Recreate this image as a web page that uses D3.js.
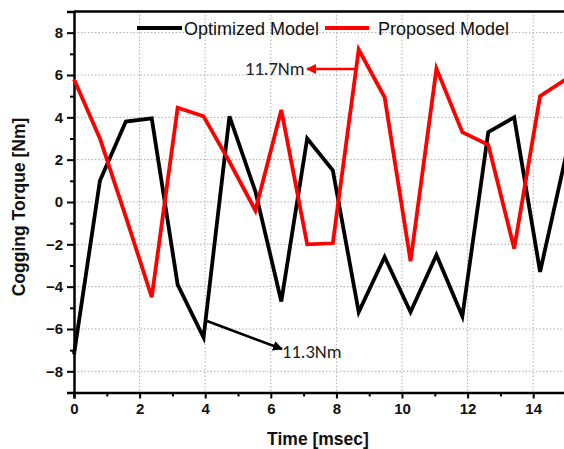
<!DOCTYPE html>
<html>
<head>
<meta charset="utf-8">
<script src="https://cdn.jsdelivr.net/npm/d3@7"></script>
<style>
  body { margin: 0; background: #fff; }
  svg { display: block; }
</style>
</head>
<body>
<svg id="chart"></svg>
<script>
const times = [0, 0.79, 1.58, 2.37, 3.16, 3.95, 4.74, 5.53, 6.32, 7.11, 7.89, 8.68, 9.47, 10.26, 11.05, 11.84, 12.63, 13.42, 14.21, 15];
const optimized = [-7.2, 1.0, 3.8, 3.95, -3.9, -6.4, 4.05, 0.5, -4.7, 3.0, 1.5, -5.2, -2.6, -5.2, -2.5, -5.4, 3.3, 4.0, -3.3, 2.2];
const proposed = [5.8, 3.0, -0.7, -4.5, 4.45, 4.05, 1.9, -0.4, 4.35, -2.0, -1.95, 7.2, 4.95, -2.8, 6.3, 3.3, 2.7, -2.2, 5.0, 5.8];
const xTicks = [0, 2, 4, 6, 8, 10, 12, 14];
const yTicks = [-8, -6, -4, -2, 0, 2, 4, 6, 8];
const seriesNames = ['Optimized Model', 'Proposed Model'];

const width = 564, height = 449;
const svg = d3.select('#chart').attr('width', width).attr('height', height);

let x = d3.scaleLinear().domain([0, 15]).range([74, 566]);
let y = d3.scaleLinear().domain([-9, 9]).range([392.5, 11.5]);

// grid
svg.append('g').selectAll('line')
   .data(xTicks.filter(d => d > 0)).enter()
   .append('line')
   .attr('x1', d => x(d)).attr('x2', d => x(d))
   .attr('y1', y(9)).attr('y2', y(-9))
   .attr('stroke', '#aaa').attr('stroke-width', 1).attr('stroke-dasharray', '1.5,2');
svg.append('g').selectAll('line')
   .data(yTicks).enter()
   .append('line')
   .attr('x1', x(0)).attr('x2', width)
   .attr('y1', d => y(d)).attr('y2', d => y(d))
   .attr('stroke', '#aaa').attr('stroke-width', 1).attr('stroke-dasharray', '1.5,2');

// axes
let xAxis = svg.append('g').attr('transform', `translate(0,${y(-9)})`)
   .call(d3.axisBottom(x).tickValues(xTicks).tickSize(6).tickPadding(4).tickFormat(d3.format('d')));
svg.append('g').attr('transform', `translate(0,${y(-9)})`)
   .call(d3.axisBottom(x).tickValues(d3.range(1, 15, 2)).tickSize(4).tickFormat(''))
   .call(g => g.select('.domain').remove());
let yAxis = svg.append('g').attr('transform', `translate(${x(0)},0)`)
   .call(d3.axisLeft(y).tickValues(yTicks).tickSize(7).tickPadding(4).tickFormat(d3.format('d')));
svg.append('g').attr('transform', `translate(${x(0)},0)`)
   .call(d3.axisLeft(y).tickValues(d3.range(-9, 10, 2)).tickSize(4).tickFormat(''))
   .call(g => g.select('.domain').remove());

svg.selectAll('.domain').attr('stroke', '#000').attr('stroke-width', 2.5);
svg.selectAll('.tick line').attr('stroke', '#000').attr('stroke-width', 2);
svg.selectAll('.tick text')
   .attr('font-family', 'Liberation Sans, Arial, sans-serif')
   .attr('font-weight', 'bold').attr('font-size', 15).attr('fill', '#111');
xAxis.selectAll('.tick text').attr('dy', '0.75em');

// top frame
svg.append('line')
   .attr('x1', x(0)).attr('x2', width)
   .attr('y1', y(9)).attr('y2', y(9))
   .attr('stroke', '#000').attr('stroke-width', 2.5);

// series
let line = d3.line().x((d, i) => x(times[i])).y(d => y(d));
svg.append('path').datum(optimized)
   .attr('d', line).attr('fill', 'none')
   .attr('stroke', '#000').attr('stroke-width', 3.8).attr('stroke-linejoin', 'miter');
svg.append('path').datum(proposed)
   .attr('d', line).attr('fill', 'none')
   .attr('stroke', '#ff0000').attr('stroke-width', 3.8).attr('stroke-linejoin', 'miter');

// legend
let legendFont = 'Liberation Sans, Arial, sans-serif';
svg.append('line').attr('x1', 137).attr('x2', 182).attr('y1', 28).attr('y2', 28)
   .attr('stroke', '#000').attr('stroke-width', 3.8);
svg.append('text').attr('x', 184).attr('y', 35).text(seriesNames[0])
   .attr('font-family', legendFont).attr('font-size', 18).attr('fill', '#111');
svg.append('line').attr('x1', 325).attr('x2', 369).attr('y1', 28).attr('y2', 28)
   .attr('stroke', '#ff0000').attr('stroke-width', 3.8);
svg.append('text').attr('x', 378).attr('y', 35).text(seriesNames[1])
   .attr('font-family', legendFont).attr('font-size', 18).attr('fill', '#111');

// arrow markers
let defs = svg.append('defs');
[['arrRed', '#ff0000'], ['arrBlack', '#000']].forEach(([id, col]) => {
  defs.append('marker').attr('id', id)
     .attr('viewBox', '0 0 10 10').attr('refX', 9).attr('refY', 5)
     .attr('markerWidth', 4).attr('markerHeight', 4).attr('orient', 'auto')
     .append('path').attr('d', 'M0,0 L10,5 L0,10 z').attr('fill', col);
});

// annotations
let noteFont = 'Carlito, Open Sans, Liberation Sans, sans-serif';
svg.append('line').attr('x1', 355).attr('y1', 69).attr('x2', 307).attr('y2', 69)
   .attr('stroke', '#ff0000').attr('stroke-width', 2.5).attr('marker-end', 'url(#arrRed)');
svg.append('text').attr('x', 245).attr('y', 75).text('11.7Nm')
   .attr('font-family', noteFont).attr('font-size', 18.5).attr('fill', '#222');
svg.append('line').attr('x1', 207).attr('y1', 321).attr('x2', 282).attr('y2', 349)
   .attr('stroke', '#000').attr('stroke-width', 2.5).attr('marker-end', 'url(#arrBlack)');
svg.append('text').attr('x', 282).attr('y', 358).text('11.3Nm')
   .attr('font-family', noteFont).attr('font-size', 18.5).attr('fill', '#222');

// axis titles
svg.append('text').attr('x', 318).attr('y', 445).attr('text-anchor', 'middle')
   .text('Time [msec]')
   .attr('font-family', legendFont).attr('font-weight', 'bold').attr('font-size', 17.5).attr('fill', '#111');
svg.append('text').attr('transform', 'translate(25,207) rotate(-90)').attr('text-anchor', 'middle')
   .text('Cogging Torque [Nm]')
   .attr('font-family', legendFont).attr('font-weight', 'bold').attr('font-size', 17.5).attr('fill', '#111');
</script>
</body>
</html>
